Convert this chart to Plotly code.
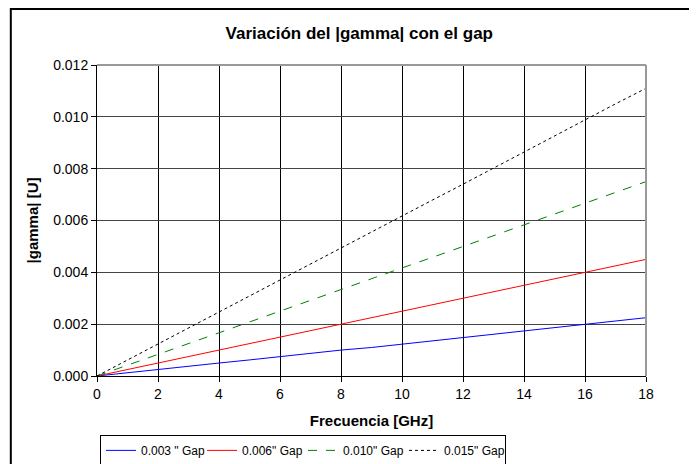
import plotly.graph_objects as go

# Frequency points (GHz) and |gamma| values
freq = list(range(0, 19))

gap_003 = [0, 0.00013, 0.00025, 0.00037, 0.0005, 0.00062, 0.00075, 0.00087, 0.001, 0.0011,
           0.00123, 0.00135, 0.00148, 0.0016, 0.00173, 0.00186, 0.002, 0.00212, 0.00225]
gap_006 = [0, 0.00025, 0.0005, 0.00075, 0.001, 0.00125, 0.0015, 0.00175, 0.002, 0.00225,
           0.0025, 0.00275, 0.003, 0.00325, 0.0035, 0.00375, 0.004, 0.00425, 0.0045]
gap_010 = [0, 0.00042, 0.00083, 0.00125, 0.00167, 0.00208, 0.0025, 0.00292, 0.00333, 0.00375,
           0.00417, 0.00458, 0.005, 0.00542, 0.00583, 0.00625, 0.00667, 0.00708, 0.0075]
gap_015 = [0, 0.00062, 0.00124, 0.00185, 0.00247, 0.00309, 0.0037, 0.00432, 0.00494, 0.00556,
           0.00617, 0.00679, 0.0074, 0.00802, 0.00864, 0.00926, 0.0099, 0.0105, 0.0111]

series = [
    ('0.003 " Gap', gap_003, '#0000ff', 'solid'),
    ('0.006" Gap', gap_006, '#ff0000', 'solid'),
    ('0.010" Gap', gap_010, '#008000', 'dash'),
    ('0.015" Gap', gap_015, '#000000', 'dot'),
]

fig = go.Figure()
for name, vals, color, dash in series:
    fig.add_trace(go.Scatter(x=freq, y=vals, mode='lines', name=name,
                             line=dict(color=color, width=1, dash=dash)))

# outer chart frame (plot area is 549 x 311 px)
fig.add_shape(type='rect', xref='paper', yref='paper',
              x0=-0.157, x1=1.2, y0=-0.4, y1=1.18,
              line=dict(color='#000000', width=2), layer='below')

# grey border on top and right of the plot area
fig.add_shape(type='line', xref='paper', yref='paper', x0=0, x1=1, y0=1, y1=1,
              line=dict(color='#999999', width=2))
fig.add_shape(type='line', xref='paper', yref='paper', x0=1, x1=1, y0=0, y1=1,
              line=dict(color='#999999', width=2))

# the page body adds 8px on the left and top, so margins are shifted by 8px
fig.update_layout(
    template='none',
    width=697, height=464,
    margin=dict(l=89, r=59, t=57, b=96, autoexpand=False),
    paper_bgcolor='white', plot_bgcolor='white',
    font=dict(family='Liberation Sans, Arial', size=14, color='black'),
    title=dict(text='<b>Variación del |gamma| con el gap</b>', x=0.504, xanchor='center',
               y=0.946, yanchor='middle', font=dict(size=17)),
    xaxis=dict(range=[0, 18], dtick=2, tickformat='d', automargin=False,
               showgrid=True, gridcolor='black', gridwidth=1,
               showline=True, linecolor='black', linewidth=1, mirror=False,
               ticks='outside', ticklen=5, tickcolor='black',
               zeroline=False,
               title=dict(text='<b>Frecuencia [GHz]</b>', standoff=14, font=dict(size=15))),
    yaxis=dict(range=[0, 0.012], dtick=0.002, tickformat='.3f', automargin=False,
               showgrid=True, gridcolor='#444444', gridwidth=1,
               showline=True, linecolor='black', linewidth=1,
               ticks='outside', ticklen=5, tickcolor='black',
               zeroline=False,
               title=dict(text='<b>|gamma| [U]</b>', standoff=10, font=dict(size=15))),
    legend=dict(orientation='h', xref='container', yref='container',
                x=0.132, xanchor='left', y=0.08, yanchor='top',
                bordercolor='black', borderwidth=1, font=dict(size=12),
                entrywidth=56, entrywidthmode='pixels', tracegroupgap=0),
    showlegend=True,
)

fig.write_html("out.html")
